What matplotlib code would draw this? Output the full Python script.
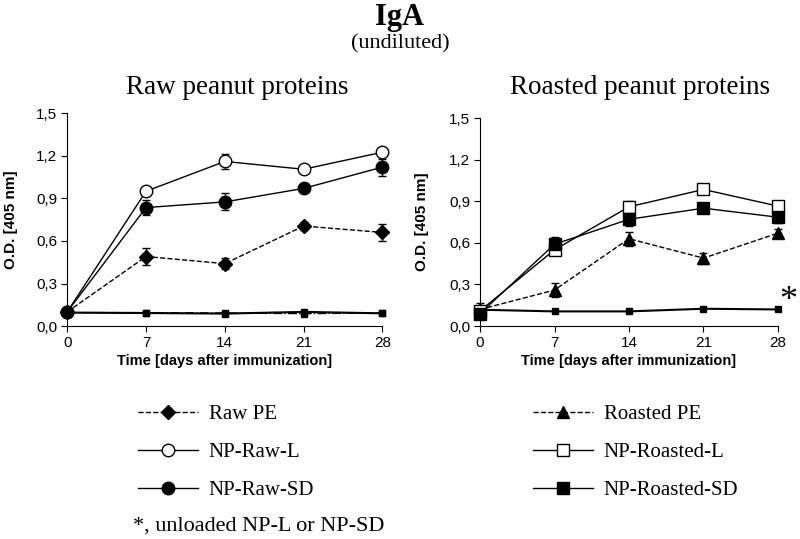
import numpy as np
import matplotlib.pyplot as plt
from matplotlib.lines import Line2D

days = [0, 7, 14, 21, 28]

# Raw peanut proteins
raw_pe = [0.10, 0.49, 0.44, 0.705, 0.66]
raw_pe_err = [0.03, 0.06, 0.04, 0.03, 0.06]
np_raw_l = [0.10, 0.95, 1.16, 1.105, 1.225]
np_raw_l_err = [0.02, 0.02, 0.05, 0.02, 0.02]
np_raw_sd = [0.10, 0.835, 0.875, 0.97, 1.12]
np_raw_sd_err = [0.03, 0.05, 0.06, 0.02, 0.06]
unl_raw_l = [0.095, 0.092, 0.088, 0.10, 0.09]
unl_raw_sd = [0.095, 0.095, 0.092, 0.088, 0.092]

# Roasted peanut proteins
roa_pe = [0.12, 0.26, 0.63, 0.49, 0.67]
roa_pe_err = [0.05, 0.05, 0.05, 0.04, 0.03]
np_roa_l = [0.11, 0.55, 0.86, 0.985, 0.865]
np_roa_l_err = [0.03, 0.03, 0.04, 0.02, 0.02]
np_roa_sd = [0.09, 0.59, 0.77, 0.85, 0.785]
np_roa_sd_err = [0.03, 0.05, 0.05, 0.03, 0.04]
unl_roa = [0.118, 0.106, 0.106, 0.125, 0.12]

serif = 'Liberation Serif'
sans = 'Liberation Sans'

fig = plt.figure(figsize=(8, 5.39), dpi=100)
ax1 = fig.add_axes([0.084, 0.395, 0.394, 0.395])
ax2 = fig.add_axes([0.6, 0.395, 0.3725, 0.386])


def style(ax, ylab_x):
    ax.set_xlim(0, 28)
    ax.set_ylim(0, 1.5)
    ax.set_xticks(days)
    ax.set_yticks([0, 0.3, 0.6, 0.9, 1.2, 1.5])
    ax.set_yticklabels(['0,0', '0,3', '0,6', '0,9', '1,2', '1,5'])
    for s in ['top', 'right']:
        ax.spines[s].set_visible(False)
    ax.tick_params(labelsize=11, length=4, direction='out', pad=3)
    for lab in ax.get_xticklabels() + ax.get_yticklabels():
        lab.set_fontfamily(sans)
    ax.set_xlabel('Time [days after immunization]', fontfamily=sans,
                  fontweight='bold', fontsize=10.5, labelpad=3)
    ax.set_ylabel('O.D. [405 nm]', fontfamily=sans, fontweight='bold',
                  fontsize=11)
    ax.yaxis.set_label_coords(ylab_x, 0.5)


def series(ax, y, err, ls, marker, mfc, ms=8):
    ax.errorbar(days, y, yerr=err, color='black', ls=ls, lw=1,
                marker=marker, mfc=mfc, mec='black', ms=ms,
                ecolor='black', elinewidth=1, capsize=3, clip_on=False, zorder=3)


# left panel
ax1.plot(days, unl_raw_l, color='black', lw=1.5, ls='-', marker='s', ms=4,
         clip_on=False, zorder=2)
ax1.plot(days, unl_raw_sd, color='black', lw=1, ls='-.', marker='s', ms=4,
         clip_on=False, zorder=2)
series(ax1, raw_pe, raw_pe_err, '--', 'D', 'black', 7)
series(ax1, np_raw_l, np_raw_l_err, '-', 'o', 'white', 9)
series(ax1, np_raw_sd, np_raw_sd_err, '-', 'o', 'black', 9)
style(ax1, -0.155)

# right panel
ax2.plot(days, unl_roa, color='black', lw=1.5, ls='-', marker='s', ms=4,
         clip_on=False, zorder=2)
series(ax2, roa_pe, roa_pe_err, '--', '^', 'black', 8)
series(ax2, np_roa_l, np_roa_l_err, '-', 's', 'white', 8)
series(ax2, np_roa_sd, np_roa_sd_err, '-', 's', 'black', 8)
style(ax2, -0.17)

fig.text(0.296, 0.837, 'Raw peanut proteins', fontfamily=serif, fontsize=19.5,
         ha='center', va='center')
fig.text(0.8, 0.837, 'Roasted peanut proteins', fontfamily=serif, fontsize=19.5,
         ha='center', va='center')
fig.text(0.997, 0.44, '*', fontfamily=serif, fontsize=26, ha='right', va='center')

fig.text(0.5, 0.968, 'IgA', fontfamily=serif, fontweight='bold', fontsize=22,
         ha='center', va='center')
fig.text(0.5, 0.918, '(undiluted)', fontfamily=serif, fontsize=16,
         ha='center', va='center')

# legends
h_left = [
    Line2D([], [], color='black', ls='--', lw=1, marker='D', ms=7, mfc='black'),
    Line2D([], [], color='black', ls='-', lw=1, marker='o', ms=9, mfc='white'),
    Line2D([], [], color='black', ls='-', lw=1, marker='o', ms=9, mfc='black'),
]
h_right = [
    Line2D([], [], color='black', ls='--', lw=1, marker='^', ms=8, mfc='black'),
    Line2D([], [], color='black', ls='-', lw=1, marker='s', ms=8, mfc='white'),
    Line2D([], [], color='black', ls='-', lw=1, marker='s', ms=8, mfc='black'),
]
leg_kw = dict(frameon=False, prop={'family': serif, 'size': 15},
              handlelength=2.9, labelspacing=0.88, handletextpad=0.5,
              borderpad=0, borderaxespad=0)
fig.legend(h_left, ['Raw PE', 'NP-Raw-L', 'NP-Raw-SD'],
           loc='center left', bbox_to_anchor=(0.1725, 0.161), **leg_kw)
fig.legend(h_right, ['Roasted PE', 'NP-Roasted-L', 'NP-Roasted-SD'],
           loc='center left', bbox_to_anchor=(0.666, 0.161), **leg_kw)
fig.text(0.166, 0.024, '*, unloaded NP-L or NP-SD', fontfamily=serif,
         fontsize=16, ha='left', va='center')

plt.savefig('out.png', dpi=100)
